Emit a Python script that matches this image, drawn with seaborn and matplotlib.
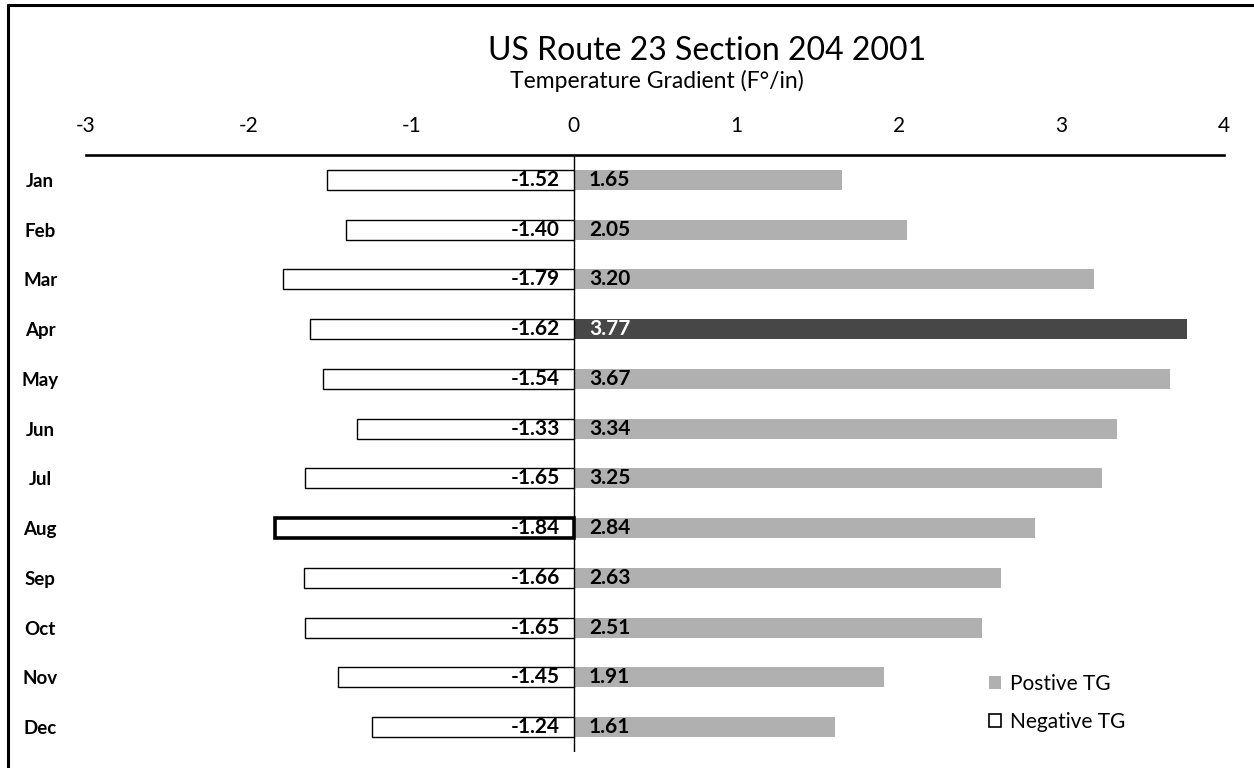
import matplotlib
matplotlib.use("Agg")
import matplotlib.pyplot as plt
from matplotlib.patches import Patch
from matplotlib.lines import Line2D
import seaborn as sns
import pandas as pd

months = ["Jan", "Feb", "Mar", "Apr", "May", "Jun",
          "Jul", "Aug", "Sep", "Oct", "Nov", "Dec"]
negative_tg = [-1.52, -1.40, -1.79, -1.62, -1.54, -1.33,
               -1.65, -1.84, -1.66, -1.65, -1.45, -1.24]
positive_tg = [1.65, 2.05, 3.20, 3.77, 3.67, 3.34,
               3.25, 2.84, 2.63, 2.51, 1.91, 1.61]
x_ticks = [-3, -2, -1, 0, 1, 2, 3, 4]

sns.set_theme(style="white")
plt.rcParams["font.family"] = ["Lato", "DejaVu Sans"]
plt.rcParams["text.color"] = "black"

df = pd.DataFrame({"month": months, "neg": negative_tg, "pos": positive_tg})

fig = plt.figure(figsize=(12.54, 7.68), dpi=100)
ax = fig.add_axes([86 / 1254, 1 - 752 / 768, (1224 - 86) / 1254, (752 - 155) / 768])

POS_COLOR = "#b0b0b0"
HIGHLIGHT = "#474747"

sns.barplot(data=df, x="pos", y="month", order=months, orient="h",
            color=POS_COLOR, width=0.4, saturation=1, ax=ax)
n_pos = len(ax.patches)
sns.barplot(data=df, x="neg", y="month", order=months, orient="h",
            color="white", width=0.4, saturation=1, edgecolor="black",
            linewidth=1.0, ax=ax)

pos_bars = ax.patches[:n_pos]
neg_bars = ax.patches[n_pos:]
for bar in pos_bars:
    bar.set_linewidth(0)
# highlighted points
pos_bars[months.index("Apr")].set_facecolor(HIGHLIGHT)
neg_bars[months.index("Aug")].set_linewidth(2.6)

# value labels at the base of each bar
for i, (n, p) in enumerate(zip(negative_tg, positive_tg)):
    ax.annotate(f"{n:.2f}", xy=(0, i), xytext=(-10, 0), textcoords="offset points",
                ha="right", va="center", fontsize=15, fontweight="bold", color="black")
    ax.annotate(f"{p:.2f}", xy=(0, i), xytext=(11, 0), textcoords="offset points",
                ha="left", va="center", fontsize=15, fontweight="bold",
                color="white" if months[i] == "Apr" else "black")

ax.axvline(0, color="black", linewidth=1.0, zorder=0.5)

ax.set_xlim(-3, 4)
ax.set_ylim(11.5, -0.5)
ax.set_xticks(x_ticks)
ax.set_xticklabels([str(t) for t in x_ticks])
ax.xaxis.tick_top()
ax.tick_params(axis="x", length=0, pad=14, labelsize=15, colors="black")
ax.tick_params(axis="y", length=0, pad=33, labelsize=13.5, colors="black")
for lbl in ax.get_yticklabels():
    lbl.set_fontweight("bold")
    lbl.set_ha("center")
ax.set_xlabel("")
ax.set_ylabel("")

for side in ["left", "right", "bottom"]:
    ax.spines[side].set_visible(False)
ax.spines["top"].set_linewidth(1.9)
ax.spines["top"].set_color("black")

fig.text(707 / 1254, 1 - 51 / 768, "US Route 23 Section 204 2001",
         ha="center", va="center", fontsize=23, color="black")
fig.text(657 / 1254, 1 - 81 / 768, "Temperature Gradient (F°/in)",
         ha="center", va="center", fontsize=16.5, color="black")

handles = [Patch(facecolor=POS_COLOR, edgecolor="none"),
           Patch(facecolor="white", edgecolor="black", linewidth=1.2)]
ax.legend(handles, ["Postive TG", "Negative TG"], frameon=False,
          loc="center left", bbox_to_anchor=(970 / 1254, 1 - 703 / 768),
          bbox_transform=fig.transFigure, fontsize=15,
          handlelength=0.6, handleheight=0.6, handletextpad=0.4,
          labelspacing=0.85)

# chart frame
fig.add_artist(Line2D([8 / 1254, 8 / 1254], [0, 1 - 5 / 768],
                      transform=fig.transFigure, color="black", linewidth=2.2))
fig.add_artist(Line2D([8 / 1254, 1], [1 - 5 / 768, 1 - 5 / 768],
                      transform=fig.transFigure, color="black", linewidth=2.2))

fig.savefig("out.png", dpi=100, facecolor="white")
